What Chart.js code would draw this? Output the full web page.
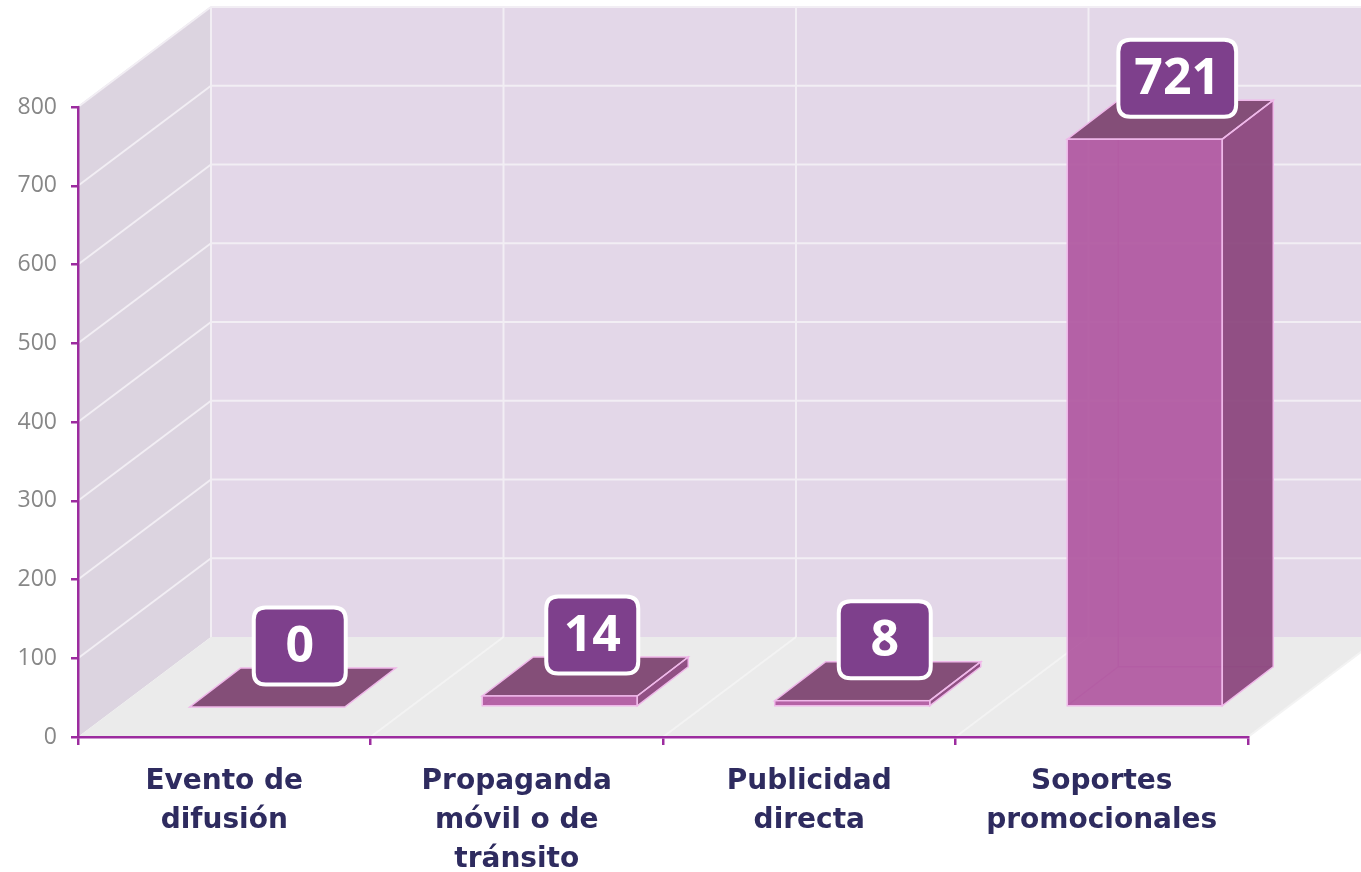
<!DOCTYPE html>
<html lang="es">
<head>
<meta charset="utf-8">
<title>Soportes promocionales</title>
<script src="https://cdn.jsdelivr.net/npm/chart.js@4.4.1/dist/chart.umd.min.js"></script>
<style>
    html, body { margin: 0; padding: 0; background: #ffffff; }
    #chart-wrap { width: 1361px; height: 872px; }
</style>
</head>
<body>
<div id="chart-wrap">
    <canvas id="bar-chart" width="1361" height="872"></canvas>
</div>
<script>
// Chart data
const categories = [
    ['Evento de', 'difusión'],
    ['Propaganda', 'móvil o de', 'tránsito'],
    ['Publicidad', 'directa'],
    ['Soportes', 'promocionales']
];
const values = [0, 14, 8, 721];
const yMin = 0;
const yMax = 800;
const yStep = 100;

// 3D look
const WALL_DX = 133;   // full depth of the box, px
const WALL_DY = 100;
const BAR_FX = 43;     // offset of bar front face from the axis plane
const BAR_FY = 30;
const BAR_DX = 51;     // depth of each bar
const BAR_DY = 39;

const AXIS_COLOR = '#9c2c9f';

function poly(ctx, pts) {
    ctx.beginPath();
    ctx.moveTo(pts[0][0], pts[0][1]);
    for (let i = 1; i < pts.length; i++) ctx.lineTo(pts[i][0], pts[i][1]);
    ctx.closePath();
}

function line(ctx, x1, y1, x2, y2) {
    ctx.beginPath();
    ctx.moveTo(x1, y1);
    ctx.lineTo(x2, y2);
    ctx.stroke();
}

function roundRect(ctx, x, y, w, h, r) {
    ctx.beginPath();
    ctx.moveTo(x + r, y);
    ctx.lineTo(x + w - r, y);
    ctx.quadraticCurveTo(x + w, y, x + w, y + r);
    ctx.lineTo(x + w, y + h - r);
    ctx.quadraticCurveTo(x + w, y + h, x + w - r, y + h);
    ctx.lineTo(x + r, y + h);
    ctx.quadraticCurveTo(x, y + h, x, y + h - r);
    ctx.lineTo(x, y + r);
    ctx.quadraticCurveTo(x, y, x + r, y);
    ctx.closePath();
}

// walls, floor and grid behind the bars (drawn before the axes)
const wallsPlugin = {
    id: 'walls3d',
    beforeDraw(chart) {
        const ctx = chart.ctx;
        const { left, right, top, bottom } = chart.chartArea;
        const yScale = chart.scales.y;
        const catW = (right - left) / categories.length;

        ctx.save();
        // left wall
        ctx.fillStyle = '#dcd4e0';
        poly(ctx, [[left, bottom], [left, top], [left + WALL_DX, top - WALL_DY], [left + WALL_DX, bottom - WALL_DY]]);
        ctx.fill();
        // back wall
        ctx.fillStyle = '#e3d7e8';
        poly(ctx, [[left + WALL_DX, top - WALL_DY], [right + WALL_DX + 50, top - WALL_DY],
                   [right + WALL_DX + 50, bottom - WALL_DY], [left + WALL_DX, bottom - WALL_DY]]);
        ctx.fill();
        // floor
        ctx.fillStyle = '#ebebeb';
        poly(ctx, [[left, bottom], [right, bottom], [right + WALL_DX, bottom - WALL_DY], [left + WALL_DX, bottom - WALL_DY]]);
        ctx.fill();

        // top edge shadow of walls
        ctx.strokeStyle = 'rgba(180,170,185,0.5)';
        ctx.lineWidth = 1.5;
        line(ctx, left, top, left + WALL_DX, top - WALL_DY);
        line(ctx, left + WALL_DX, top - WALL_DY, right + WALL_DX + 50, top - WALL_DY);

        // horizontal grid lines
        ctx.strokeStyle = '#f2eef4';
        ctx.lineWidth = 2;
        for (let v = yMin + yStep; v <= yMax; v += yStep) {
            const yy = yScale.getPixelForValue(v);
            line(ctx, left, yy, left + WALL_DX, yy - WALL_DY);
            line(ctx, left + WALL_DX, yy - WALL_DY, right + WALL_DX + 50, yy - WALL_DY);
        }
        // vertical grid lines on back wall and diagonals on floor
        for (let k = 0; k <= categories.length; k++) {
            const bx = left + k * catW;
            ctx.strokeStyle = '#f2eef4';
            line(ctx, bx + WALL_DX, top - WALL_DY, bx + WALL_DX, bottom - WALL_DY);
            if (k > 0) {
                ctx.strokeStyle = '#f3f3f3';
                line(ctx, bx, bottom, bx + WALL_DX, bottom - WALL_DY);
            }
        }
        ctx.restore();
    },
    // the default flat bars are replaced by the 3D boxes below
    beforeDatasetDraw() {
        return false;
    },
    afterDatasetsDraw(chart) {
        const ctx = chart.ctx;
        const meta = chart.getDatasetMeta(0);

        ctx.save();
        meta.data.forEach((bar, i) => {
            const x0 = bar.x - bar.width / 2 + BAR_FX;
            const x1 = bar.x + bar.width / 2 + BAR_FX;
            const yTop = bar.y - BAR_FY;
            const yBot = bar.base - BAR_FY;
            const hasHeight = yBot - yTop > 0.5;

            if (hasHeight) {
                // hidden back edges, seen through the glassy front
                ctx.strokeStyle = 'rgba(200,110,190,0.6)';
                ctx.lineWidth = 1.5;
                line(ctx, x0 + BAR_DX, yTop - BAR_DY, x0 + BAR_DX, yBot - BAR_DY);
                line(ctx, x0 + BAR_DX, yBot - BAR_DY, x1 + BAR_DX, yBot - BAR_DY);
                line(ctx, x0, yBot, x0 + BAR_DX, yBot - BAR_DY);

                // side face
                ctx.fillStyle = 'rgba(140,72,126,0.95)';
                poly(ctx, [[x1, yTop], [x1 + BAR_DX, yTop - BAR_DY], [x1 + BAR_DX, yBot - BAR_DY], [x1, yBot]]);
                ctx.fill();
            }

            // top face
            ctx.fillStyle = '#844e78';
            poly(ctx, [[x0, yTop], [x1, yTop], [x1 + BAR_DX, yTop - BAR_DY], [x0 + BAR_DX, yTop - BAR_DY]]);
            ctx.fill();
            ctx.strokeStyle = '#efb8e9';
            ctx.lineWidth = 1.5;
            ctx.stroke();

            if (hasHeight) {
                // front face
                ctx.fillStyle = 'rgba(176,88,160,0.93)';
                ctx.fillRect(x0, yTop, x1 - x0, yBot - yTop);
                ctx.strokeStyle = '#efb8e9';
                ctx.strokeRect(x0, yTop, x1 - x0, yBot - yTop);
                poly(ctx, [[x1, yTop], [x1 + BAR_DX, yTop - BAR_DY], [x1 + BAR_DX, yBot - BAR_DY], [x1, yBot]]);
                ctx.stroke();
            }
        });

        // value labels
        ctx.font = 'bold 50px "Open Sans", "DejaVu Sans", sans-serif';
        ctx.textAlign = 'center';
        ctx.textBaseline = 'middle';
        meta.data.forEach((bar, i) => {
            const text = String(values[i]);
            const cx = bar.x + BAR_FX + BAR_DX / 2 + 7;
            const boxBottom = bar.y - BAR_FY - BAR_DY / 2 - 3;
            const h = 77;
            const w = Math.max(92, ctx.measureText(text).width + 32);
            roundRect(ctx, cx - w / 2, boxBottom - h, w, h, 12);
            ctx.fillStyle = '#7e408c';
            ctx.fill();
            ctx.lineWidth = 4;
            ctx.strokeStyle = '#ffffff';
            ctx.stroke();
            ctx.fillStyle = '#ffffff';
            ctx.fillText(text, cx, boxBottom - h / 2 + 2);
        });
        ctx.restore();
    }
};

const ctx = document.getElementById('bar-chart').getContext('2d');
const chart = new Chart(ctx, {
    type: 'bar',
    data: {
        labels: categories,
        datasets: [{
            data: values,
            backgroundColor: '#b058a0',
            categoryPercentage: 1,
            barPercentage: 0.53
        }]
    },
    options: {
        responsive: false,
        animation: false,
        layout: { padding: { left: 0, right: 113, top: 107, bottom: 0 } },
        plugins: {
            legend: { display: false },
            tooltip: { enabled: false }
        },
        scales: {
            x: {
                grid: {
                    display: true,
                    drawOnChartArea: false,
                    drawTicks: true,
                    tickLength: 8,
                    color: AXIS_COLOR,
                    lineWidth: 2.5,
                    offset: true
                },
                border: { color: AXIS_COLOR, width: 2.5 },
                ticks: {
                    color: '#2e2b5f',
                    font: { family: '"DejaVu Sans", sans-serif', weight: 'bold', size: 28, lineHeight: 1.4 },
                    padding: 17,
                    maxRotation: 0,
                    autoSkip: false
                },
                afterFit(scale) { scale.height = 135; }
            },
            y: {
                min: yMin,
                max: yMax,
                grid: {
                    drawOnChartArea: false,
                    drawTicks: true,
                    tickLength: 7,
                    color: AXIS_COLOR,
                    lineWidth: 2.5
                },
                border: { color: AXIS_COLOR, width: 2.5 },
                ticks: {
                    stepSize: yStep,
                    color: '#878787',
                    font: { family: '"Open Sans", sans-serif', weight: 'normal', size: 23 },
                    padding: 14
                },
                afterFit(scale) { scale.width = 78; }
            }
        }
    },
    plugins: [wallsPlugin]
});
</script>
</body>
</html>
